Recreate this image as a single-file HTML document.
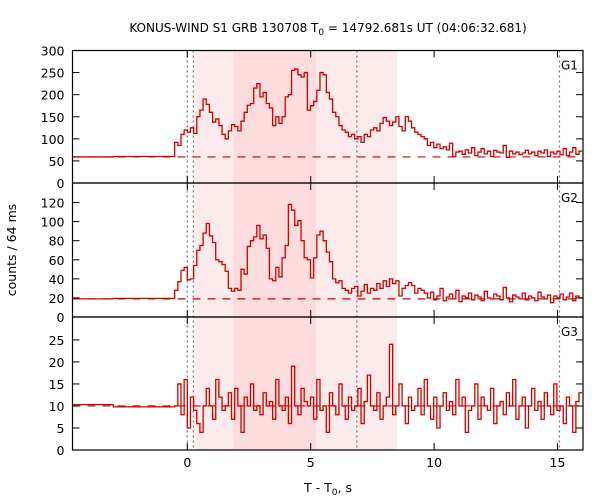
<!DOCTYPE html>
<html><head><meta charset="utf-8"><style>
body{margin:0;background:#fff;}
svg{display:block;font-family:"DejaVu Sans","Liberation Sans",sans-serif;}
</style></head><body>
<svg id="chart" width="600" height="500" viewBox="0 0 600 500"></svg>
<script>
// ---- data ----
const binStart = -0.512;
const binWidth = 0.128;
const preTimes = [-4.66, -3.0, -0.512];
const g1Pre = [59, 60];
const g2Pre = [19, 19.5];
const g3Pre = [10.3, 9.8];
const g1Background = 59;
const g2Background = 19;
const g3Background = 10;
const g1Counts = [92,85,110,120,115,125,112,150,165,190,178,160,138,145,130,110,100,118,132,128,118,140,160,176,180,215,225,195,205,180,170,130,150,135,150,195,200,255,258,245,240,250,165,175,185,210,250,245,205,190,160,150,130,120,115,105,110,100,105,92,110,105,120,125,118,135,148,140,130,138,150,128,118,150,140,125,115,110,105,100,85,92,80,88,78,82,75,90,60,
70,72,65,75,68,80,62,70,78,66,72,60,74,70,68,85,58,72,66,70,64,68,74,66,70,62,72,68,75,60,70,66,72,64,78,62,70,80,65,72];
const g2Counts = [28,37,49,52,39,40,54,70,75,88,98,85,78,60,58,55,48,30,27,30,28,50,45,74,80,84,96,82,86,72,40,38,52,42,62,75,118,112,96,101,80,62,60,41,62,86,90,80,68,58,40,36,38,30,28,25,30,32,22,27,34,25,30,28,35,30,38,32,40,35,38,22,30,33,36,33,25,30,28,25,
20,26,18,22,30,17,21,24,19,28,16,22,20,25,18,23,21,17,27,20,19,24,22,18,31,20,16,23,21,19,25,18,22,20,17,26,21,19,23,15,22,20,24,18,21,25,17,22,20];
const g3Counts = [10,15,8,16,5,12,9,6,4,10,14,10,7,16,12,9,10,13,7,14,10,4,12,10,15,9,10,8,13,10,11,7,16,10,9,12,6,19,10,8,14,11,10,12,7,16,9,10,4,13,10,8,15,10,7,12,9,10,14,6,11,17,10,9,13,7,10,12,24,8,10,15,10,6,12,9,10,14,8,16,10,7,12,5,10,13,9,11,8,16,10,12,4,9,10,15,7,12,10,9,14,6,10,11,8,13,10,16,7,10,12,5,10,14,9,11,7,13,10,8,15,9,10,6,12,10,4,11,13];
const xTicks = [0, 5, 10, 15];
const g1Ticks = [0, 50, 100, 150, 200, 250, 300];
const g2Ticks = [0, 20, 40, 60, 80, 100, 120];
const g3Ticks = [0, 5, 10, 15, 20, 25];
const lightInterval = [0.256, 8.5];
const darkInterval = [1.86, 5.22];
const dottedTimes = [0, 0.244, 6.87, 15.08];

// ---- layout ----
const L = 72.5, R = 583, T0x = 187.3, PXS = 24.68;
const xs = t => T0x + t * PXS;
const panels = [
  {name:'g1', top:50.5, bot:183, max:300, pre:g1Pre, counts:g1Counts, bg:g1Background, ticks:g1Ticks, label:'G1'},
  {name:'g2', top:183, bot:317, max:140.5, pre:g2Pre, counts:g2Counts, bg:g2Background, ticks:g2Ticks, label:'G2'},
  {name:'g3', top:317, bot:450, max:30.2, pre:g3Pre, counts:g3Counts, bg:g3Background, ticks:g3Ticks, label:'G3'}
];
const NS = 'http://www.w3.org/2000/svg';
const svg = document.getElementById('chart');
function mk(tag, attrs, parent){const e=document.createElementNS(NS,tag);for(const k in attrs)e.setAttribute(k,attrs[k]);(parent||svg).appendChild(e);return e;}

let r1 = mk('rect',{x:xs(lightInterval[0]),y:50.5,width:xs(lightInterval[1])-xs(lightInterval[0]),height:399.5,fill:'#fdeaea'});


let r2 = mk('rect',{x:xs(darkInterval[0]),y:50.5,width:xs(darkInterval[1])-xs(darkInterval[0]),height:399.5,fill:'#fcdcdd'});


dottedTimes.forEach(t=>{
  const l = mk('line',{x1:xs(t),x2:xs(t),y1:50.5,y2:450,stroke:'#777','stroke-width':1.2,'stroke-dasharray':'2,3'});
  
  
});

panels.forEach(p=>{
  const ys = v => p.bot - v * (p.bot - p.top) / p.max;
  const bl = mk('line',{x1:L,x2:R,y1:ys(p.bg),y2:ys(p.bg),stroke:'#d00000','stroke-width':1.2,'stroke-dasharray':'8,7'});
  
  
  let d = 'M' + xs(preTimes[0]) + ',' + ys(p.pre[0]);
  for (let i=0;i<p.pre.length;i++){ d += 'V'+ys(p.pre[i])+'H'+xs(preTimes[i+1]); }
  for (let i=0;i<p.counts.length;i++){
    const t1 = binStart + (i+1)*binWidth;
    d += 'V'+ys(p.counts[i])+'H'+xs(Math.min(t1, 16.03));
  }
  const path = mk('path',{d:d,fill:'none',stroke:'#d00000','stroke-width':1.3});
  
  
  const fr = mk('rect',{x:L,y:p.top,width:R-L,height:p.bot-p.top,fill:'none',stroke:'#000','stroke-width':1.2});
  
  
  p.ticks.forEach(v=>{
    const y = ys(v);
    mk('line',{x1:L,x2:L+7,y1:y,y2:y,stroke:'#000','stroke-width':1});
    mk('line',{x1:R-7,x2:R,y1:y,y2:y,stroke:'#000','stroke-width':1});
    const tx = mk('text',{x:L-8,y:y+5,'text-anchor':'end','font-size':12.5,fill:'#000'});
    tx.textContent = v;
    
    
  });
  xTicks.forEach(t=>{
    mk('line',{x1:xs(t),x2:xs(t),y1:p.bot,y2:p.bot-7,stroke:'#000','stroke-width':1});
    mk('line',{x1:xs(t),x2:xs(t),y1:p.top,y2:p.top+7,stroke:'#000','stroke-width':1});
  });
  const lb = mk('text',{x:561,y:p.top+19,'font-size':12,fill:'#000'});
  lb.textContent = p.label;
  
  
});
xTicks.forEach(t=>{
  const tx = mk('text',{x:xs(t),y:467,'text-anchor':'middle','font-size':12.5,fill:'#000'});
  tx.textContent = t;
  
  
});
</script>
<script>
(function(){
const NS='http://www.w3.org/2000/svg', svg=document.getElementById('chart');
const title=document.createElementNS(NS,'text');
title.setAttribute('x','328');title.setAttribute('y','32');title.setAttribute('text-anchor','middle');title.setAttribute('font-size','12');
title.innerHTML='KONUS-WIND S1 GRB 130708 T<tspan font-size="9" dy="3">0</tspan><tspan dy="-3"> = 14792.681s UT (04:06:32.681)</tspan>';


svg.appendChild(title);
const xl=document.createElementNS(NS,'text');
xl.setAttribute('x','328');xl.setAttribute('y','492');xl.setAttribute('text-anchor','middle');xl.setAttribute('font-size','12.5');
xl.innerHTML='T - T<tspan font-size="9" dy="3">0</tspan><tspan dy="-3">, s</tspan>';


svg.appendChild(xl);
const yl=document.createElementNS(NS,'text');
yl.setAttribute('x','0');yl.setAttribute('y','0');yl.setAttribute('text-anchor','middle');yl.setAttribute('font-size','12.5');
yl.setAttribute('transform','translate(16,250) rotate(-90)');
yl.textContent='counts / 64 ms';


svg.appendChild(yl);
})();
</script>
</body></html>
